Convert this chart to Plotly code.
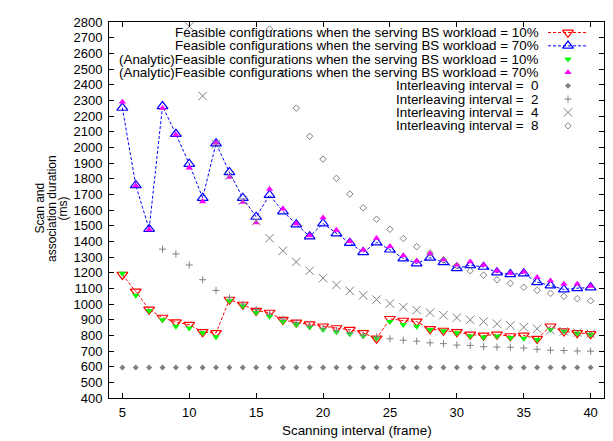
import plotly.graph_objects as go

# ---------------- data ----------------
scan_interval = [5, 6, 7, 8, 9, 10, 11, 12, 13, 14, 15, 16, 17, 18, 19, 20, 21, 22,
                 23, 24, 25, 26, 27, 28, 29, 30, 31, 32, 33, 34, 35, 36, 37, 38, 39, 40]

wl10 = [1187, 1080, 965, 913, 884, 868, 821, 815, 1028, 996, 957, 945, 899, 882, 871, 857, 846, 836,
        815, 780, 905, 894, 888, 840, 830, 821, 805, 799, 805, 795, 799, 778, 857, 826, 815, 809]
wl70 = [2252, 1758, 1478, 2262, 2085, 1894, 1677, 2025, 1841, 1677, 1556, 1696, 1591, 1508, 1431, 1514, 1450, 1389,
        1330, 1393, 1347, 1291, 1259, 1295, 1267, 1228, 1247, 1237, 1201, 1190, 1195, 1139, 1118, 1093, 1101, 1105]
an10 = [1195, 1055, 957, 899, 857, 846, 815, 790, 1020, 987, 945, 920, 888, 868, 851, 836, 821, 809,
        795, 780, 888, 868, 857, 836, 828, 815, 795, 788, 795, 785, 780, 772, 836, 826, 812, 805]
an70 = [2290, 1755, 1475, 2250, 2080, 1869, 1654, 2029, 1810, 1650, 1520, 1733, 1608, 1513, 1437, 1551, 1472, 1400,
        1345, 1420, 1368, 1309, 1274, 1322, 1283, 1249, 1270, 1249, 1212, 1197, 1205, 1170, 1149, 1128, 1128, 1114]

il0_x = scan_interval
il0 = [595, 595, 595, 595, 595, 595, 595, 595, 595, 595, 595, 595, 595, 595, 595, 595, 595, 595,
       595, 595, 595, 595, 595, 595, 595, 595, 595, 595, 595, 595, 595, 595, 595, 595, 595, 595]
il2_x = [8, 9, 10, 11, 12, 13, 14, 15, 16, 17, 18, 19, 20, 21, 22, 23, 24, 25, 26, 27, 28, 29, 30,
         31, 32, 33, 34, 35, 36, 37, 38, 39, 40]
il2 = [1350, 1320, 1249, 1155, 1087, 1040, 1000, 965, 935, 905, 880, 860, 845, 830, 815, 800, 790,
       778, 769, 763, 752, 747, 738, 736, 727, 725, 724, 719, 711, 705, 703, 700, 699]
il4_x = [10, 11, 12, 13, 14, 15, 16, 17, 18, 19, 20, 21, 22, 23, 24, 25, 26, 27, 28, 29, 30,
         31, 32, 33, 34, 35, 36, 37, 38, 39, 40]
il4 = [2772, 2328, 2020, 1820, 1660, 1530, 1420, 1340, 1268, 1212, 1165, 1122, 1084, 1055, 1028, 1003,
       980, 961, 945, 928, 913, 899, 888, 874, 863, 852, 842, 833, 825, 818, 811]
il8_x = [16, 17, 18, 19, 20, 21, 22, 23, 24, 25, 26, 27, 28, 29, 30, 31, 32, 33, 34, 35, 36, 37, 38, 39, 40]
il8 = [2755, 2473, 2250, 2071, 1925, 1802, 1702, 1614, 1541, 1477, 1418, 1366, 1326, 1281, 1245, 1212,
       1184, 1155, 1132, 1107, 1087, 1068, 1049, 1034, 1020]

x_ticks = [5, 10, 15, 20, 25, 30, 35, 40]
legend_labels = [
    "Feasible configurations when the serving BS workload = 10%",
    "Feasible configurations when the serving BS workload = 70%",
    "(Analytic)Feasible configurations when the serving BS workload = 10%",
    "(Analytic)Feasible configurations when the serving BS workload = 70%",
    "Interleaving interval = \u00a00",
    "Interleaving interval = \u00a02",
    "Interleaving interval = \u00a04",
    "Interleaving interval = \u00a08",
]
x_title = "Scanning interval (frame)"
y_title_lines = ["Scan and", "association duration", "(ms)"]

# ---------------- styles ----------------
FONT = "Liberation Sans, Arial, Helvetica, sans-serif"
RED, BLUE, GREEN, MAG, GRAY = "#ff0000", "#0000ff", "#00ff00", "#ff00ff", "#808080"
styles = [
    dict(mode="lines+markers", line=dict(color=RED, width=1, dash="3px,2px"),
         marker=dict(symbol="triangle-down-open", size=9.5, color=RED, line=dict(width=1.2, color=RED))),
    dict(mode="lines+markers", line=dict(color=BLUE, width=1, dash="3px,2px"),
         marker=dict(symbol="triangle-up-open", size=9.5, color=BLUE, line=dict(width=1.2, color=BLUE))),
    dict(mode="markers", marker=dict(symbol="triangle-down", size=6.5, color=GREEN, line=dict(width=0))),
    dict(mode="markers", marker=dict(symbol="triangle-up", size=6.5, color=MAG, line=dict(width=0))),
    dict(mode="markers", marker=dict(symbol="diamond", size=4.6, color=GRAY, line=dict(width=0))),
    dict(mode="markers", marker=dict(symbol="cross-thin-open", size=5, color=GRAY, line=dict(width=1, color=GRAY))),
    dict(mode="markers", marker=dict(symbol="x-thin-open", size=8.5, color=GRAY, line=dict(width=1, color=GRAY))),
    dict(mode="markers", marker=dict(symbol="diamond-open", size=5, color=GRAY, line=dict(width=1, color=GRAY))),
]

series = [
    (scan_interval, wl10), (scan_interval, wl70), (scan_interval, an10), (scan_interval, an70),
    (il0_x, il0), (il2_x, il2), (il4_x, il4), (il8_x, il8),
]

fig = go.Figure()
for (xs, ys), st, name in zip(series, styles, legend_labels):
    fig.add_trace(go.Scatter(x=xs, y=ys, name=name, showlegend=False, cliponaxis=True, **st))

# Screen geometry (the page body adds an 8px offset)
OFF = 8
SCR_W, SCR_H = 613, 441
PL, PR, PT, PB = 109, 604, 15, 398          # plot area in screen pixels
W, H = SCR_W - OFF, SCR_H - OFF
ML, MR, MT, MB = PL - OFF, OFF + W - PR, PT - OFF, OFF + H - PB

# ---------------- custom legend (gnuplot style: text left of sample) ----------------
L_X0, L_X1, L_XM, L_TX = 548, 588, 568, 541
L_Y0, L_DY = 25.7, 13.57
for i, (st, name) in enumerate(zip(styles, legend_labels)):
    yy = L_Y0 + i * L_DY
    if "lines" in st["mode"]:
        fig.add_trace(go.Scatter(x=[L_X0, L_X1], y=[yy, yy], mode="lines", line=st["line"],
                                 xaxis="x2", yaxis="y2", showlegend=False, hoverinfo="skip"))
    fig.add_trace(go.Scatter(x=[L_XM], y=[yy], mode="markers", marker=st["marker"],
                             xaxis="x2", yaxis="y2", showlegend=False, hoverinfo="skip"))
    fig.add_annotation(x=L_TX, y=yy, xref="x2", yref="y2", text=name, showarrow=False,
                       xanchor="right", yanchor="middle", font=dict(family=FONT, size=13.4, color="black"))

def px2paper(px, py):
    return (px - PL) / (PR - PL), 1 - (py - PT) / (PB - PT)

for cx, line in zip([40, 51.5, 63], y_title_lines):
    xp, yp = px2paper(cx, 205)
    fig.add_annotation(x=xp, y=yp, xref="paper", yref="paper", text=line, textangle=-90,
                       showarrow=False, xanchor="center", yanchor="middle",
                       font=dict(family=FONT, size=12, color="black"))
xp, yp = px2paper(357, 431)
fig.add_annotation(x=xp, y=yp, xref="paper", yref="paper", text=x_title, showarrow=False,
                   xanchor="center", yanchor="middle", font=dict(family=FONT, size=13.4, color="black"))

fig.update_layout(
    width=W, height=H,
    margin=dict(l=ML, r=MR, t=MT, b=MB, pad=0),
    paper_bgcolor="white", plot_bgcolor="white",
    font=dict(family=FONT, size=12, color="black"),
    showlegend=False,
    xaxis=dict(range=[4, 41], tickvals=x_ticks, ticks="inside", ticklen=5, tickcolor="black",
               showline=True, linecolor="black", linewidth=1, mirror="ticks",
               showgrid=False, zeroline=False, tickfont=dict(size=13, family=FONT),
               ticklabelstandoff=2, ticklabeloverflow="allow"),
    yaxis=dict(range=[400, 2800], dtick=100, tick0=400, ticks="inside", ticklen=5, tickcolor="black",
               showline=True, linecolor="black", linewidth=1, mirror="ticks",
               showgrid=False, zeroline=False, tickfont=dict(size=13, family=FONT),
               ticklabelstandoff=3, ticklabeloverflow="allow"),
    xaxis2=dict(range=[PL, PR], overlaying="x", anchor="y2", visible=False, fixedrange=True),
    yaxis2=dict(range=[PB, PT], overlaying="y", anchor="x2", visible=False, fixedrange=True),
)

fig.write_html("out.html")
